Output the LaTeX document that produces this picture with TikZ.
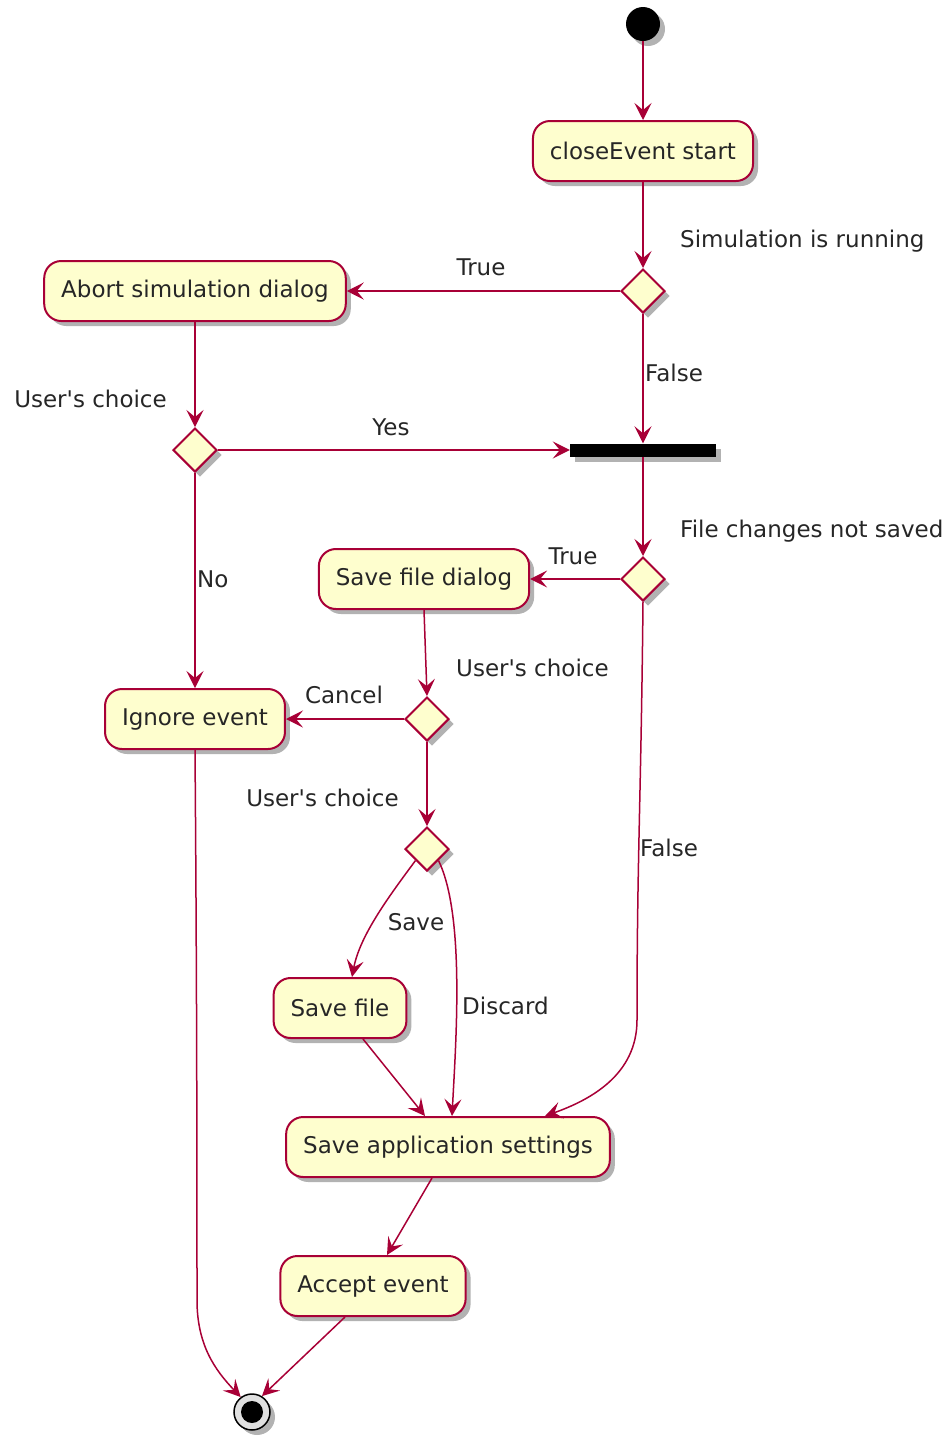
\documentclass[tikz,border=0pt]{standalone}
\usepackage{fontspec}
\setmainfont{DejaVu Sans}[Ligatures=TeXOff]
\usetikzlibrary{arrows.meta,shapes.geometric,shadows,calc}
\definecolor{umlred}{HTML}{A80036}
\definecolor{umlfill}{HTML}{FEFECE}
\begin{document}
\begin{tikzpicture}[x=1pt,y=-1pt,
    every node/.style={font=\fontsize{23}{27}\selectfont, text=black!85},
    umlshadow/.style={drop shadow={shadow xshift=5pt,shadow yshift=-5pt,opacity=0.3,fill=black}},
    action/.style={draw=umlred, line width=2pt, fill=umlfill, rounded corners=17pt, minimum height=60pt, inner xsep=17pt, umlshadow},
    choice/.style={diamond, draw=umlred, line width=2pt, fill=umlfill, minimum size=44pt, inner sep=0pt, umlshadow},
    flow/.style={draw=umlred, line width=1.5pt, -{Stealth[length=17pt,width=17pt,inset=7pt]}},
    lbl/.style={inner sep=0pt}]
    \useasboundingbox (0,0) rectangle (951,1436);
    % start / end
    \node (start) at (643,24) [circle, fill=black, minimum size=34pt, inner sep=0pt, umlshadow] {};
    \node (stop) at (252,1412) [circle, draw=black, line width=1.5pt, fill=black!12, minimum size=36pt, inner sep=0pt, umlshadow] {};
    \node (stopdot) at (252,1412) [circle, fill=black, minimum size=22pt, inner sep=0pt] {};
    % actions
    \node (close) at (643,151) [action] {closeEvent start};
    \node (abort) at (195,291) [action] {Abort simulation dialog};
    \node (sfd) at (424,579) [action] {Save file dialog};
    \node (ignore) at (195,719) [action] {Ignore event};
    \node (savefile) at (340,1008) [action] {Save file};
    \node (settings) at (448,1147) [action] {Save application settings};
    \node (accept) at (373,1286) [action] {Accept event};
    % decisions and merge bar
    \node (simrun) at (643,291) [choice] {};
    \node (choiceA) at (195,450) [choice] {};
    \node (bar) at (643,450) [fill=black, minimum width=146pt, minimum height=13pt, inner sep=0pt, umlshadow] {};
    \node (unsaved) at (643,579) [choice] {};
    \node (choiceB) at (427,719) [choice] {};
    \node (choiceC) at (427,849) [choice] {};
    % flows
    \draw [flow] (start) -- (close);
    \draw [flow] (close) -- (simrun);
    \draw [flow] (simrun.west) -- (abort.east);
    \draw [flow] (simrun.south) -- (bar.north);
    \draw [flow] (abort.south) -- (choiceA.north);
    \draw [flow] (choiceA.east) -- (bar.west);
    \draw [flow] (bar.south) -- (unsaved.north);
    \draw [flow] (unsaved.west) -- (sfd.east);
    \draw [flow] (choiceA.south) -- (ignore.north);
    \draw [flow] (sfd.south) -- (choiceB.north);
    \draw [flow] (choiceB.west) -- (ignore.east);
    \draw [flow] (choiceB.south) -- (choiceC.north);
    \draw [flow] (choiceC.south west) .. controls (390,895) and (360,935) .. ($(savefile.north)+(12,0)$);
    \draw [flow] (choiceC.south east) .. controls (465,915) and (456,1040) .. ($(settings.north)+(4,0)$);
    \draw [flow] (unsaved.south) .. controls (641,800) and (637,860) .. (637,1020) .. controls (637,1075) and (590,1100) .. ($(settings.north)+(97,0)$);
    \draw [flow] ($(savefile.south)+(23,0)$) -- ($(settings.north)+(-23,0)$);
    \draw [flow] ($(settings.south)+(-16,0)$) -- ($(accept.north)+(14,0)$);
    \draw [flow] ($(accept.south)+(-28,0)$) -- (stop.58);
    \draw [flow] (ignore.south) .. controls (197,1000) and (197,1200) .. (197,1300) .. controls (197,1345) and (215,1370) .. (stop.127);
    % labels
    \node (lsimrun) at (680,241) [lbl, anchor=west] {Simulation is running};
    \node (ltrueA) at (481,267) [lbl] {True};
    \node (lfalseA) at (645,373) [lbl, anchor=west] {False};
    \node (lchoiceA) at (167,399) [lbl, anchor=east] {User's choice};
    \node (lyes) at (391,427) [lbl] {Yes};
    \node (lunsaved) at (680,531) [lbl, anchor=west] {File changes not saved};
    \node (ltrueB) at (573,556) [lbl] {True};
    \node (lno) at (197,579) [lbl, anchor=west] {No};
    \node (lchoiceB) at (456,668) [lbl, anchor=west] {User's choice};
    \node (lcancel) at (344,695) [lbl] {Cancel};
    \node (lchoiceC) at (399,798) [lbl, anchor=east] {User's choice};
    \node (lfalseB) at (640,848) [lbl, anchor=west] {False};
    \node (lsave) at (416,922) [lbl] {Save};
    \node (ldiscard) at (462,1006) [lbl, anchor=west] {Discard};
\end{tikzpicture}
\end{document}
